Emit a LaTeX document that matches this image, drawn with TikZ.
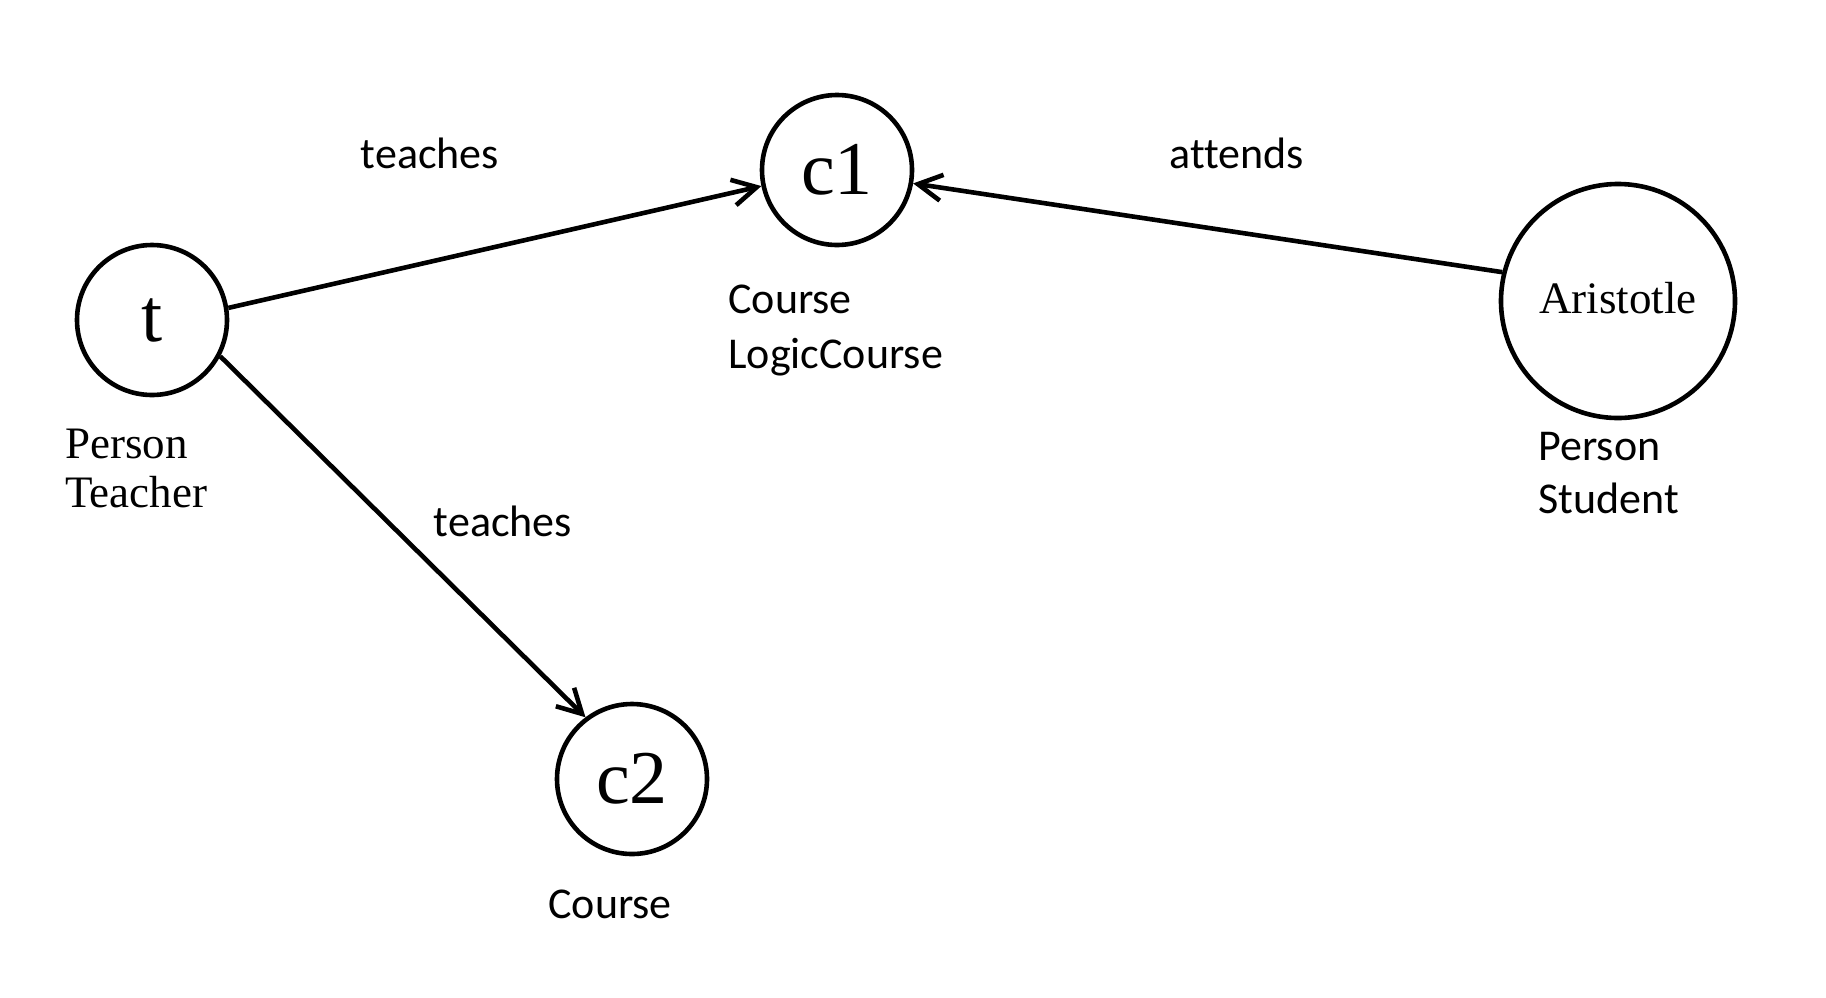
\documentclass[tikz,border=0pt]{standalone}
\usepackage{fontspec}
\setmainfont{Liberation Serif}
\newfontfamily\calib[Ligatures=NoCommon]{Carlito}
\usetikzlibrary{arrows.meta}
\begin{document}
\begin{tikzpicture}[x=0.5pt,y=-0.5pt,
  ent/.style={circle,draw,line width=2.3pt,inner sep=0pt,font=\fontsize{38}{40}\selectfont},
  lbl/.style={inner sep=0pt,font=\calib\fontsize{22}{26}\selectfont},
  slbl/.style={inner sep=0pt,font=\fontsize{22.5}{26}\selectfont},
  rel/.style={line width=2.3pt,-{Straight Barb[length=12pt,width=13pt,line width=2.3pt]}}]
\useasboundingbox (0,0) rectangle (1826,997);
\node[ent,minimum size=75pt] (t) at (152,320) {t};
\node[ent,minimum size=75pt] (c1) at (837,170) {c1};
\node[ent,minimum size=75pt] (c2) at (632,779) {c2};
\node[ent,minimum size=117pt,font=\fontsize{22.5}{26}\selectfont] (ar) at (1618,301) {\raisebox{3pt}{Aristotle}};
\draw[rel] (t.9) -- (c1.192);
\draw[rel] (t.-28) -- (c2.127);
\draw[rel] (ar.166) -- (c1.-10);
\node[lbl] (l1) at (430,153) {teaches};
\node[lbl] (l2) at (1237,153) {attends};
\node[lbl] (l3) at (503,521) {teaches};
\node[lbl,anchor=base west] (c1a) at (728,313) {Course};
\node[lbl,anchor=base west] (c1b) at (728,368) {LogicCourse};
\node[slbl,anchor=base west] (ta) at (65,458) {Person};
\node[slbl,anchor=base west] (tb) at (65,507) {Teacher};
\node[lbl,anchor=base west] (aa) at (1538,460) {Person};
\node[lbl,anchor=base west] (ab) at (1538,513) {Student};
\node[lbl,anchor=base west] (c2a) at (548,918) {Course};
\end{tikzpicture}
\end{document}
